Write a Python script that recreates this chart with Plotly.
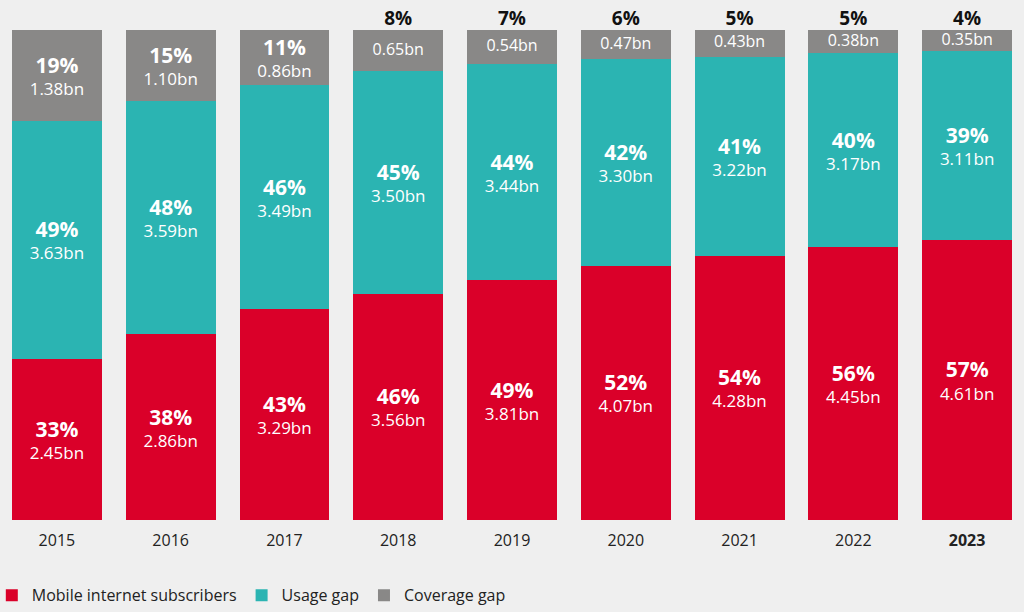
import plotly.graph_objects as go

years = ["2015", "2016", "2017", "2018", "2019", "2020", "2021", "2022", "2023"]
tick_labels = ["2015", "2016", "2017", "2018", "2019", "2020", "2021", "2022", "<b>2023</b>"]

subscribers_bn = [2.45, 2.86, 3.29, 3.56, 3.81, 4.07, 4.28, 4.45, 4.61]
usage_bn = [3.63, 3.59, 3.49, 3.50, 3.44, 3.30, 3.22, 3.17, 3.11]
coverage_bn = [1.38, 1.10, 0.86, 0.65, 0.54, 0.47, 0.43, 0.38, 0.35]

subscribers_pct = [33, 38, 43, 46, 49, 52, 54, 56, 57]
usage_pct = [49, 48, 46, 45, 44, 42, 41, 40, 39]
coverage_pct = [19, 15, 11, 8, 7, 6, 5, 5, 4]

# coverage gap percentages shown inside the bar only where the segment is tall
coverage_inside = [True, True, True, False, False, False, False, False, False]

RED = "#da0029"
TEAL = "#2bb4b2"
GREY = "#898887"
BG = "#efefef"
FONT = "Open Sans"

def lab(p, b):
    return f"<span style='font-size:21px'><b>{p}%</b></span><br>{b:.2f}bn"

common = dict(textposition="inside", insidetextanchor="middle", textangle=0,
              constraintext="none", hoverinfo="skip", cliponaxis=False,
              textfont=dict(color="white", size=17, family=FONT))

fig = go.Figure()
fig.add_trace(go.Bar(
    x=years, y=subscribers_bn, name="Mobile internet subscribers",
    marker=dict(color=RED, line=dict(width=0)),
    text=[lab(p, b) for p, b in zip(subscribers_pct, subscribers_bn)],
    **common,
))
fig.add_trace(go.Bar(
    x=years, y=usage_bn, name="Usage gap",
    marker=dict(color=TEAL, line=dict(width=0)),
    text=[lab(p, b) for p, b in zip(usage_pct, usage_bn)],
    **common,
))
fig.add_trace(go.Bar(
    x=years, y=coverage_bn, name="Coverage gap",
    marker=dict(color=GREY, line=dict(width=0)),
    text=[lab(p, b) if ins else ""
          for p, b, ins in zip(coverage_pct, coverage_bn, coverage_inside)],
    **common,
))

# small coverage-gap segments: bn value in the middle of the grey cap, percentage above the bar
small = [i for i, ins in enumerate(coverage_inside) if not ins]
small_x = [years[i] for i in small]
small_mid = [100 - 50 * coverage_bn[i] / (subscribers_bn[i] + usage_bn[i] + coverage_bn[i])
             for i in small]
fig.add_trace(go.Scatter(
    x=small_x, y=small_mid, mode="text",
    text=[f"{coverage_bn[i]:.2f}bn" for i in small],
    textposition="middle center", cliponaxis=False, showlegend=False,
    textfont=dict(size=16, color="white", family=FONT), hoverinfo="skip",
))
fig.add_trace(go.Scatter(
    x=small_x, y=[100] * len(small_x), mode="text",
    text=[f"<b>{coverage_pct[i]}%</b>" for i in small],
    textposition="top center", cliponaxis=False, showlegend=False,
    textfont=dict(size=19, color="#111111", family=FONT), hoverinfo="skip",
))

fig.update_layout(
    width=1024, height=612,
    barmode="stack", barnorm="percent", bargap=0.21,
    paper_bgcolor=BG, plot_bgcolor=BG,
    margin=dict(l=0, r=0, t=30, b=92, autoexpand=False),
    font=dict(family=FONT, color="#222222", size=16),
    xaxis=dict(type="category", tickmode="array", tickvals=years, ticktext=tick_labels,
               showgrid=False, showline=False, ticks="outside", ticklen=6,
               tickcolor="rgba(0,0,0,0)", zeroline=False,
               tickfont=dict(size=16, color="#222222", family=FONT)),
    yaxis=dict(range=[0, 100], visible=False, showgrid=False),
    legend=dict(orientation="h", x=-0.008, xanchor="left", y=-0.119, yanchor="top",
                traceorder="normal", font=dict(size=16, color="#222222", family=FONT),
                bgcolor="rgba(0,0,0,0)", itemwidth=30),
    showlegend=True,
)

fig.write_html("out.html", config={"displayModeBar": False},
               post_script="document.body.style.margin='0';document.body.style.background='#efefef';")
